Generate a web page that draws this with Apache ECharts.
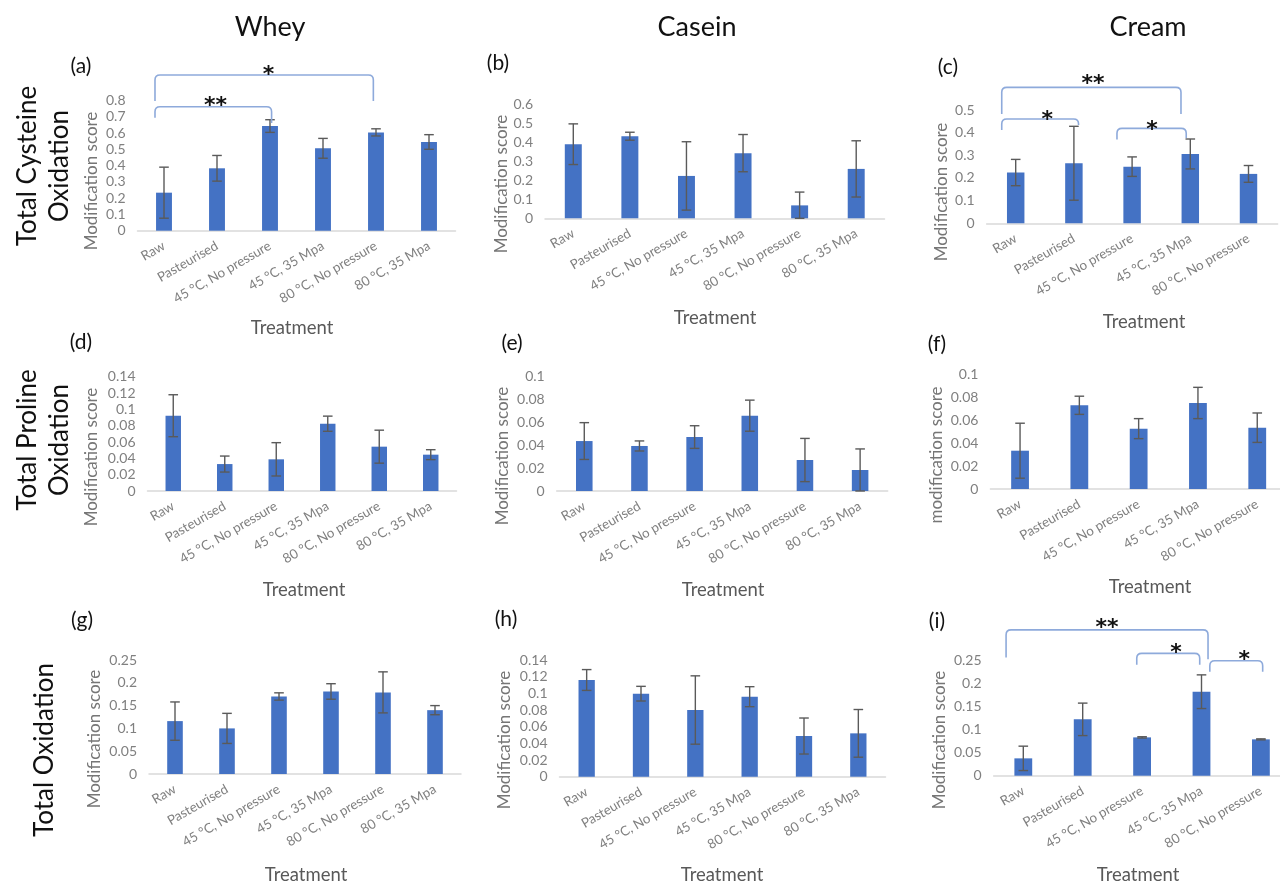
<!DOCTYPE html>
<html><head><meta charset="utf-8">
<script src="https://cdn.jsdelivr.net/npm/echarts@6/dist/echarts.min.js"></script>
<style>html,body{margin:0;padding:0;background:#fff}#c{width:1280px;height:884px}</style>
</head><body><div id="c"></div>
<script>
// ---- categories ----
const cats6 = ['Raw', 'Pasteurised', '45 °C, No pressure', '45 °C, 35 Mpa', '80 °C, No pressure', '80 °C, 35 Mpa'];
const cats5 = ['Raw', 'Pasteurised', '45 °C, No pressure', '45 °C, 35 Mpa', '80 °C, No pressure'];

// ---- values (mean) and error (±) ----
const wheyCys = [0.234, 0.384, 0.644, 0.507, 0.605, 0.546];
const wheyCysErr = [0.157, 0.079, 0.039, 0.061, 0.022, 0.045];
const caseinCys = [0.390, 0.432, 0.223, 0.343, 0.068, 0.260];
const caseinCysErr = [0.107, 0.021, 0.180, 0.098, 0.070, 0.148];
const creamCys = [0.224, 0.265, 0.250, 0.306, 0.218];
const creamCysErr = [0.058, 0.163, 0.043, 0.066, 0.037];

const wheyPro = [0.0922, 0.0330, 0.0388, 0.0824, 0.0543, 0.0445];
const wheyProErr = [0.0257, 0.0098, 0.0204, 0.0093, 0.0202, 0.0061];
const caseinPro = [0.0437, 0.0394, 0.0472, 0.0659, 0.0271, 0.0184];
const caseinProErr = [0.0161, 0.0044, 0.0099, 0.0136, 0.0189, 0.0184];
const creamPro = [0.0333, 0.0728, 0.0525, 0.0748, 0.0533];
const creamProErr = [0.0239, 0.0079, 0.0087, 0.0136, 0.0128];

const wheyTot = [0.116, 0.100, 0.170, 0.181, 0.179, 0.140];
const wheyTotErr = [0.042, 0.033, 0.008, 0.017, 0.045, 0.010];
const caseinTot = [0.116, 0.0996, 0.080, 0.096, 0.0488, 0.052];
const caseinTotErr = [0.0125, 0.0088, 0.041, 0.012, 0.0216, 0.0286];
const creamTot = [0.0377, 0.1225, 0.0833, 0.1826, 0.0790];
const creamTotErr = [0.0265, 0.0353, 0.0014, 0.0366, 0.0011];

// ---- y axis ranges (max, tick step) ----
const yMax = [0.8, 0.6, 0.5, 0.14, 0.1, 0.1, 0.25, 0.14, 0.25];
const yStep = [0.1, 0.1, 0.1, 0.02, 0.02, 0.02, 0.05, 0.02, 0.05];

// ---- significance brackets: [fromCat, toCat, topValue, leftEndValue, rightEndValue, starCat, starValue] ----
const wheyCysBrackets = [[-0.17, 3.95, 0.958, 0.798, 0.798, 1.97, 0.989], [-0.17, 2.03, 0.763, 0.695, 0.663, 0.97, 0.794]];
const wheyCysStars = ['*', '**'];
const creamCysBrackets = [[-0.24, 2.84, 0.600, 0.482, 0.482, 1.33, 0.635], [-0.24, 1.08, 0.460, 0.412, 0.434, 0.54, 0.478], [1.74, 2.93, 0.419, 0.370, 0.376, 2.34, 0.434]];
const creamCysStars = ['**', '*', '*'];
const creamTotBrackets = [[-0.29, 3.11, 0.317, 0.257, 0.253, 1.41, 0.330], [1.91, 2.97, 0.266, 0.241, 0.241, 2.57, 0.277], [3.14, 4.03, 0.250, 0.226, 0.226, 3.72, 0.261]];
const creamTotStars = ['**', '*', '*'];

// ---- text ----
const colTitles = ['Whey', 'Casein', 'Cream'];
const rowTitles = ['Total Cysteine\nOxidation', 'Total Proline\nOxidation', 'Total Oxidation'];
const panelLetters = ['(a)', '(b)', '(c)', '(d)', '(e)', '(f)', '(g)', '(h)', '(i)'];
const yNames = ['Modification score', 'Modification score', 'Modification score', 'Modification score', 'Modification score', 'modification score', 'Modification score', 'Modification score', 'Modification score'];
const xName = 'Treatment';

// ---- layout (pixels) ----
const gridsPx = [
  [137.5, 100.7, 318, 130], [545, 104.3, 339.5, 114], [986.6, 110, 291, 113.3],
  [147.5, 376.7, 309, 114.3], [556.7, 376.7, 331, 114.3], [990.4, 374, 296.5, 115],
  [149, 660, 312, 114], [559.5, 660, 326, 116.7], [993.6, 660.7, 297, 115]
];
const panelLabelPos = [[81, 66], [498, 63], [948, 67], [81, 342], [512, 343], [937, 344], [82, 620], [506, 619], [937, 621]];
const yNamePos = [[92, 181], [502, 184], [942, 192], [92, 457], [503, 456], [937, 455], [95, 739], [505, 740], [940, 740]];
const xNamePos = [[292, 328], [715, 318], [1144, 322], [304, 590], [723, 590], [1150, 587], [306, 875], [722, 875], [1138, 875]];
const colTitlePos = [[270, 27], [697, 27], [1148, 27]];
const rowTitlePos = [[44, 166], [44, 440], [45, 750]];

const panels = [
  { cats: cats6, vals: wheyCys, errs: wheyCysErr, br: wheyCysBrackets, st: wheyCysStars },
  { cats: cats6, vals: caseinCys, errs: caseinCysErr },
  { cats: cats5, vals: creamCys, errs: creamCysErr, br: creamCysBrackets, st: creamCysStars },
  { cats: cats6, vals: wheyPro, errs: wheyProErr },
  { cats: cats6, vals: caseinPro, errs: caseinProErr },
  { cats: cats5, vals: creamPro, errs: creamProErr },
  { cats: cats6, vals: wheyTot, errs: wheyTotErr },
  { cats: cats6, vals: caseinTot, errs: caseinTotErr },
  { cats: cats5, vals: creamTot, errs: creamTotErr, br: creamTotBrackets, st: creamTotStars }
];

const FONT = 'Lato';
const chart = echarts.init(document.getElementById('c'));

function renderErr(params, api) {
  const x = api.value(0), lo = api.value(1), hi = api.value(2);
  const p1 = api.coord([x, hi]), p2 = api.coord([x, lo]);
  const hw = 4.8;
  const st = { stroke: '#5a5a5a', lineWidth: 1.4 };
  return { type: 'group', children: [
    { type: 'line', shape: { x1: p1[0], y1: p1[1], x2: p2[0], y2: p2[1] }, style: st },
    { type: 'line', shape: { x1: p1[0] - hw, y1: p1[1], x2: p1[0] + hw, y2: p1[1] }, style: st },
    { type: 'line', shape: { x1: p2[0] - hw, y1: p2[1], x2: p2[0] + hw, y2: p2[1] }, style: st }
  ] };
}

function makeBracketRender(list, stars) {
  return function (params, api) {
    const b = list[params.dataIndex];
    const x0 = api.coord([0, 0])[0];
    const bw = api.size([1, 0])[0];
    const X = f => x0 + f * bw;
    const Y = v => api.coord([0, v])[1];
    const xa = X(b[0]), xb = X(b[1]), yt = Y(b[2]), yl = Y(b[3]), yr = Y(b[4]);
    const r = 5;
    const d = 'M' + xa + ' ' + yl + ' L' + xa + ' ' + (yt + r) + ' Q' + xa + ' ' + yt + ' ' + (xa + r) + ' ' + yt +
      ' L' + (xb - r) + ' ' + yt + ' Q' + xb + ' ' + yt + ' ' + xb + ' ' + (yt + r) + ' L' + xb + ' ' + yr;
    const fs = 22;
    return { type: 'group', children: [
      { type: 'path', shape: { pathData: d }, style: { stroke: '#8eaadb', lineWidth: 1.6, fill: null } },
      { type: 'text', x: X(b[5]), y: Y(b[6]) + 0.22 * fs, style: { text: stars[params.dataIndex], fill: '#111', font: 'bold ' + fs + 'px "DejaVu Sans"', align: 'center', verticalAlign: 'middle' } }
    ] };
  };
}

const grid = [], xAxis = [], yAxis = [], series = [];
panels.forEach((p, i) => {
  const g = gridsPx[i];
  grid.push({ left: g[0], top: g[1], width: g[2], height: g[3], containLabel: false, outerBoundsMode: 'none' });
  xAxis.push({
    type: 'category', gridIndex: i, data: p.cats,
    axisLine: { show: true, lineStyle: { color: '#d9d9d9', width: 1.5 } },
    axisTick: { show: false },
    axisLabel: { interval: 0, rotate: 30, color: '#808080', fontSize: 13.3, fontFamily: FONT, margin: 14, hideOverlap: false },
    splitLine: { show: false }
  });
  yAxis.push({
    type: 'value', gridIndex: i, min: 0, max: yMax[i], interval: yStep[i],
    axisLine: { show: false }, axisTick: { show: false }, splitLine: { show: false },
    axisLabel: { color: '#808080', fontSize: 14, fontFamily: FONT, margin: 12 }
  });
  series.push({
    type: 'bar', xAxisIndex: i, yAxisIndex: i, data: p.vals, barWidth: '30%',
    itemStyle: { color: '#4472c4' }, silent: true, animation: false
  });
  series.push({
    type: 'custom', xAxisIndex: i, yAxisIndex: i, renderItem: renderErr,
    data: p.vals.map((v, k) => [k, Math.max(0, v - p.errs[k]), v + p.errs[k]]),
    encode: { x: 0, y: [1, 2] }, z: 5, silent: true, animation: false, clip: false
  });
  if (p.br) {
    series.push({
      type: 'custom', xAxisIndex: i, yAxisIndex: i, renderItem: makeBracketRender(p.br, p.st),
      data: p.br.map(b => [0, 0]), encode: { x: 0, y: 1 }, z: 6, silent: true, animation: false, clip: false
    });
  }
});

const graphic = [];
colTitles.forEach((t, i) => graphic.push({ type: 'text', x: colTitlePos[i][0], y: colTitlePos[i][1],
  style: { text: t, font: '27px ' + FONT, fill: '#111', align: 'center', verticalAlign: 'middle' } }));
rowTitles.forEach((t, i) => graphic.push({ type: 'text', x: rowTitlePos[i][0], y: rowTitlePos[i][1], rotation: Math.PI / 2,
  style: { text: t, font: '26px ' + FONT, fill: '#111', align: 'center', verticalAlign: 'middle', lineHeight: 32 } }));
panelLetters.forEach((t, i) => graphic.push({ type: 'text', x: panelLabelPos[i][0], y: panelLabelPos[i][1],
  style: { text: t, font: '21px ' + FONT, fill: '#111', align: 'center', verticalAlign: 'middle' } }));
yNames.forEach((t, i) => graphic.push({ type: 'text', x: yNamePos[i][0], y: yNamePos[i][1], rotation: Math.PI / 2,
  style: { text: t, font: '17px ' + FONT, fill: '#767676', align: 'center', verticalAlign: 'middle' } }));
xNamePos.forEach((pos, i) => graphic.push({ type: 'text', x: pos[0], y: pos[1],
  style: { text: xName, font: '18.5px ' + FONT, fill: '#595959', align: 'center', verticalAlign: 'middle' } }));

chart.setOption({ animation: false, textStyle: { fontFamily: FONT }, grid, xAxis, yAxis, series, graphic });
</script></body></html>
